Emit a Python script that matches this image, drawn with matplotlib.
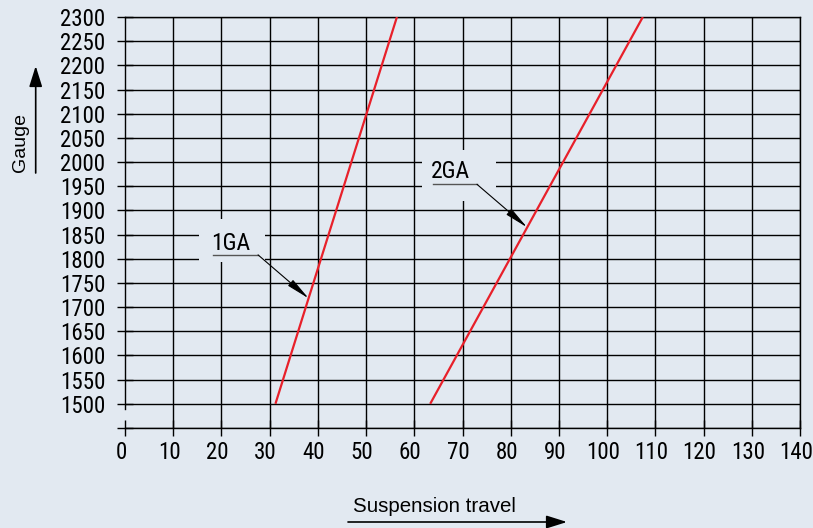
import matplotlib
matplotlib.use('Agg')
import matplotlib.pyplot as plt
import matplotlib.transforms as mtransforms
from matplotlib import font_manager as fm
from matplotlib.patches import Rectangle, FancyArrowPatch

# ---- data ----
x_ticks = list(range(0, 150, 10))
x_labels = [str(v) for v in x_ticks]
y_ticks = list(range(1450, 2350, 50))
y_labels = ['' if v == 1450 else str(v) for v in y_ticks]

ga1_x = [31.2, 56.4]
ga1_y = [1500, 2300]
ga2_x = [63.3, 107.4]
ga2_y = [1500, 2300]

label_1ga = '1GA'
label_2ga = '2GA'
x_title = 'Suspension travel'
y_title = 'Gauge'

# ---- fonts: look for a condensed face ----
def find_condensed():
    prefs = ['LiberationSansNarrow-Regular', 'RobotoCondensed-Regular', 'OpenSansCondensed',
             'DejaVuSansCondensed.ttf', 'Condensed', 'Narrow']
    files = [f.fname for f in fm.fontManager.ttflist]
    for p in prefs:
        for fn in files:
            base = fn.split('/')[-1]
            if p in base and 'Bold' not in base and 'Oblique' not in base and 'Italic' not in base:
                return fn
    return None

cond_file = find_condensed()
def numfont(size):
    if cond_file:
        return fm.FontProperties(fname=cond_file, size=size)
    return fm.FontProperties(family='Liberation Sans', size=size)

regular = ['Liberation Sans', 'DejaVu Sans']

BG = '#e2e9f1'
RED = '#e8202a'
W, H = 813, 528

fig = plt.figure(figsize=(W / 100, H / 100), dpi=100, facecolor=BG)
ax = fig.add_axes([125 / W, 1 - 428 / H, (800 - 125) / W, (428 - 17) / H])
ax.set_facecolor(BG)
ax.set_xlim(0, 140)
ax.set_ylim(1450, 2300)

ax.set_xticks(x_ticks)
ax.set_xticklabels(x_labels, fontproperties=numfont(16.5))
ax.set_yticks(y_ticks)
ax.set_yticklabels(y_labels, fontproperties=numfont(16.5))
ax.tick_params(axis='both', direction='inout', length=12.2, width=1.0, color='black')
ax.tick_params(axis='y', pad=8.0)
ax.tick_params(axis='x', pad=3.0)

# shift x tick labels slightly left as in the reference
shift = mtransforms.ScaledTranslation(-4 / 100, 0, fig.dpi_scale_trans)
for lab in ax.get_xticklabels():
    lab.set_transform(lab.get_transform() + shift)

ax.set_axisbelow(True)
ax.grid(True, color='black', lw=1.0)
for s in ax.spines.values():
    s.set_color('black')
    s.set_linewidth(1.0)
ax.spines['left'].set_bounds(1490, 2300)
fig.canvas.draw()
ax.xaxis.get_gridlines()[0].set_visible(False)

# label background boxes (hide grid behind labels)
ax.add_patch(Rectangle((15.4, 1794), 13.6, 88, facecolor=BG, edgecolor='none', zorder=1))
ax.add_patch(Rectangle((61.6, 1919), 15.4, 106, facecolor=BG, edgecolor='none', zorder=1))

# red lines
ax.plot(ga1_x, ga1_y, color=RED, lw=1.6, zorder=3, solid_capstyle='butt')
ax.plot(ga2_x, ga2_y, color=RED, lw=1.6, zorder=3, solid_capstyle='butt')

# annotations
ax.text(17.9, 1819, label_1ga, fontproperties=numfont(17), va='baseline', ha='left', zorder=4)
ax.plot([18.3, 27.6], [1808, 1808], color='#555555', lw=1.0, zorder=4)
ax.annotate('', xy=(38.1, 1718), xytext=(27.6, 1808),
            arrowprops=dict(arrowstyle='-|>,head_length=0.8,head_width=0.13', mutation_scale=18,
                            lw=0.8, color='black', shrinkA=0, shrinkB=0), zorder=4)

ax.text(63.5, 1966, label_2ga, fontproperties=numfont(17), va='baseline', ha='left', zorder=4)
ax.plot([63.9, 73.0], [1954, 1954], color='#555555', lw=1.0, zorder=4)
ax.annotate('', xy=(83.4, 1865), xytext=(73.0, 1954),
            arrowprops=dict(arrowstyle='-|>,head_length=0.8,head_width=0.13', mutation_scale=18,
                            lw=0.8, color='black', shrinkA=0, shrinkB=0), zorder=4)

# axis titles with arrows (figure coordinates)
fig.text(20 / W, 1 - 143 / H, y_title, rotation=90, family=regular, fontsize=14,
         ha='center', va='center')
fig.add_artist(FancyArrowPatch(
    (35.7 / W, 1 - 173 / H), (35.7 / W, 1 - 66 / H), transform=fig.transFigure,
    arrowstyle='-|>,head_length=0.7,head_width=0.22', mutation_scale=18, lw=1.2, color='black',
    shrinkA=0, shrinkB=0))

fig.text(353 / W, 1 - 506 / H, x_title, family=regular, fontsize=14.8, ha='left', va='center')
fig.add_artist(FancyArrowPatch(
    (348 / W, 1 - 522 / H), (567 / W, 1 - 522 / H), transform=fig.transFigure,
    arrowstyle='-|>,head_length=0.7,head_width=0.22', mutation_scale=18, lw=1.2, color='black',
    shrinkA=0, shrinkB=0))

fig.savefig('out.png', dpi=100, facecolor=BG)
